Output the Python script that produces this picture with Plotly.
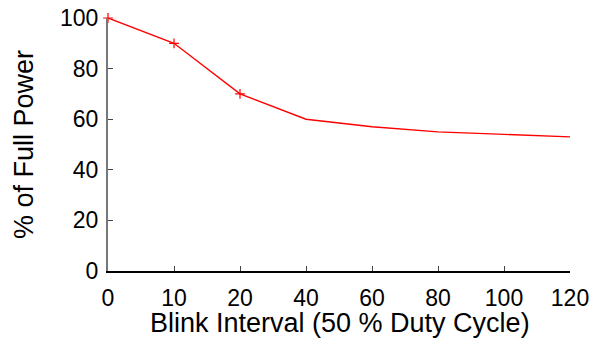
import plotly.graph_objects as go

categories = ["0", "10", "20", "40", "60", "80", "100", "120"]
power_pct = [100, 90, 70, 60, 57, 55, 54, 53]
marked_count = 3
y_ticks = [0, 20, 40, 60, 80, 100]
x_title = "Blink Interval (50 % Duty Cycle)"
y_title = "% of Full Power"

xi = list(range(len(categories)))

fig = go.Figure()
fig.add_trace(go.Scatter(
    x=xi, y=power_pct, mode="lines",
    line=dict(color="red", width=1.4),
    cliponaxis=False, showlegend=False, hoverinfo="skip"))
fig.add_trace(go.Scatter(
    x=xi[:marked_count], y=power_pct[:marked_count], mode="markers",
    marker=dict(symbol="cross-thin", size=7, line=dict(color="red", width=1.2)),
    cliponaxis=False, showlegend=False))

font = "Liberation Sans, Arial, sans-serif"
fig.update_layout(
    width=597, height=349,
    margin=dict(l=100, r=35, t=10, b=86),
    plot_bgcolor="white", paper_bgcolor="white",
    font=dict(family=font, size=23, color="black"),
    xaxis=dict(
        range=[0, len(categories) - 1], tickvals=xi, ticktext=categories,
        showgrid=False, zeroline=False, showline=True, linecolor="black", linewidth=1.5,
        ticks="inside", ticklen=5, tickcolor="#444", tickwidth=1,
        automargin=False, ticklabelstandoff=6, ticklabeloverflow="allow",
        tickfont=dict(size=23)),
    yaxis=dict(
        range=[0, 100], tickvals=y_ticks,
        showgrid=False, zeroline=False, showline=True, linecolor="#777", linewidth=2,
        ticks="inside", ticklen=5, tickcolor="#444", tickwidth=1,
        automargin=False, ticklabelstandoff=3, ticklabeloverflow="allow",
        tickfont=dict(size=23)),
    annotations=[
        dict(text=x_title, xref="paper", yref="paper", x=0.502, y=-0.2075,
             xanchor="center", yanchor="middle", showarrow=False,
             font=dict(family=font, size=27, color="black")),
        dict(text=y_title, xref="paper", yref="paper", x=-0.1818, y=0.498,
             xanchor="center", yanchor="middle", showarrow=False, textangle=-90,
             font=dict(family=font, size=27, color="black")),
    ],
)
fig.write_html("out.html")
